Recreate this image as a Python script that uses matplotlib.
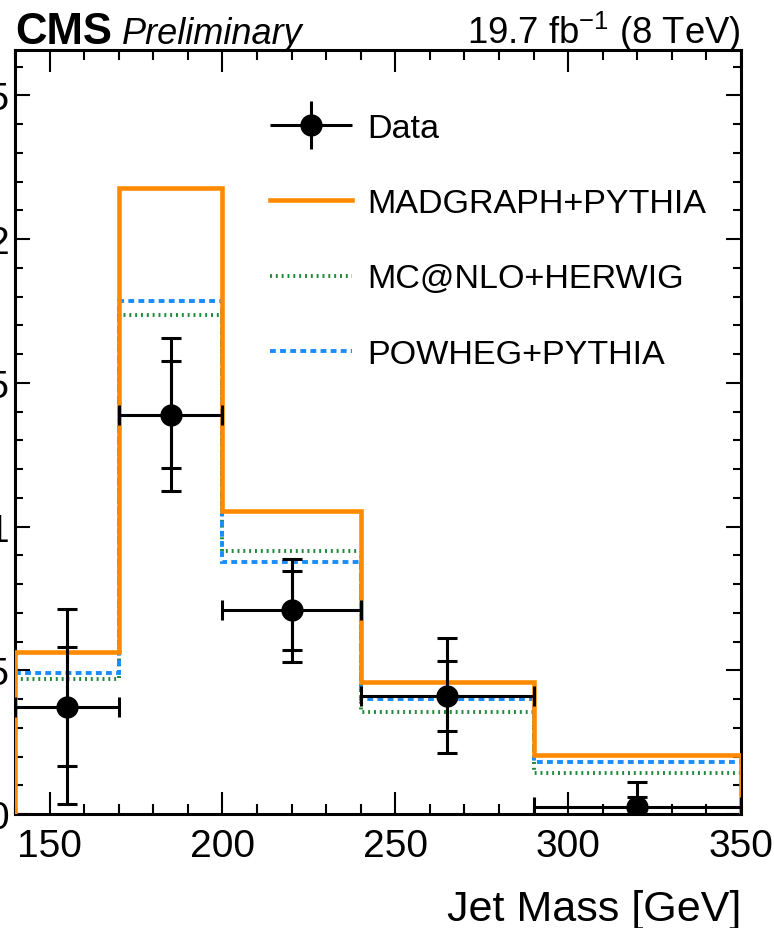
import numpy as np
import matplotlib
matplotlib.use("Agg")
import matplotlib.pyplot as plt
from matplotlib.ticker import MultipleLocator
from matplotlib.legend_handler import HandlerErrorbar

plt.rcParams['font.family'] = ['Liberation Sans', 'DejaVu Sans']
plt.rcParams['mathtext.default'] = 'regular'

# binning and values
edges = [140, 170, 200, 240, 290, 350]
centers = [155, 185, 220, 265, 320]
data = [0.373, 1.389, 0.708, 0.412, 0.024]
tot_up = [0.713, 1.656, 0.886, 0.612, 0.111]
tot_dn = [0.034, 1.124, 0.529, 0.211, -0.05]
stat_up = [0.580, 1.575, 0.846, 0.533, 0.060]
stat_dn = [0.166, 1.204, 0.570, 0.290, -0.02]
madgraph = [0.565, 2.177, 1.053, 0.458, 0.204]
mcatnlo = [0.470, 1.736, 0.914, 0.354, 0.143]
powheg = [0.490, 1.786, 0.877, 0.399, 0.180]

c_orange = '#ff8a00'
c_blue = '#1a8cff'
c_green = '#1f8a3a'
ls_green = (0, (0.5, 1.0))
ls_blue = (0, (1.5, 1.1))

fig = plt.figure(figsize=(7.74, 9.29), dpi=100)
ax = fig.add_axes([15/774, 1-815/929, 726/774, 764/929])

d = np.array(data)
xerr = [np.array(centers) - np.array(edges[:-1]), np.array(edges[1:]) - np.array(centers)]

ax.stairs(mcatnlo, edges, baseline=None, color=c_green, lw=2.8, linestyle=ls_green, zorder=2)
ax.stairs(powheg, edges, baseline=None, color=c_blue, lw=2.8, linestyle=ls_blue, zorder=2)
ax.stairs(madgraph, edges, baseline=0, color=c_orange, lw=3.3, zorder=3)

ax.errorbar(centers, d, yerr=[d - np.array(stat_dn), np.array(stat_up) - d],
            fmt='none', ecolor='black', elinewidth=2.2, capsize=7, capthick=2.2, zorder=4)
ax.errorbar(centers, d, yerr=[d - np.array(tot_dn), np.array(tot_up) - d], xerr=xerr,
            fmt='o', color='black', ms=15, elinewidth=2.2, capsize=7, capthick=2.2, zorder=5)

# legend proxies
h_data = ax.errorbar([], [], yerr=[], xerr=[], fmt='o', color='black', ms=15,
                     elinewidth=2.2, capsize=0)
h_mg, = ax.plot([], [], color=c_orange, lw=3.3)
h_mc, = ax.plot([], [], color=c_green, lw=2.8, linestyle=ls_green)
h_pw, = ax.plot([], [], color=c_blue, lw=2.8, linestyle=ls_blue)
ax.legend([h_data, h_mg, h_mc, h_pw],
          ['Data', 'MADGRAPH+PYTHIA', 'MC@NLO+HERWIG', 'POWHEG+PYTHIA'],
          handler_map={h_data: HandlerErrorbar(xerr_size=1.2, yerr_size=0.7)},
          loc='upper left', bbox_to_anchor=(0.351, 0.918), frameon=False,
          fontsize=24.6, handlelength=2.4, handletextpad=0.46, labelspacing=1.3,
          borderpad=0, borderaxespad=0)

ax.set_xlim(140, 350)
ax.set_ylim(0, 2.658)
ax.xaxis.set_major_locator(MultipleLocator(50))
ax.xaxis.set_minor_locator(MultipleLocator(10))
ax.yaxis.set_major_locator(MultipleLocator(0.5))
ax.yaxis.set_minor_locator(MultipleLocator(0.1))
ax.tick_params(which='both', direction='in', top=True, right=True, labelsize=28, width=1.5)
ax.tick_params(axis='x', which='major', length=16, pad=10)
ax.tick_params(axis='x', which='minor', length=7)
ax.tick_params(axis='y', which='major', length=11, pad=4)
ax.tick_params(axis='y', which='minor', length=6)
ax.yaxis.set_major_formatter(matplotlib.ticker.FormatStrFormatter('%g'))
for s in ax.spines.values():
    s.set_linewidth(2.2)

ax.text(1.0, -0.1387, 'Jet Mass [GeV]', transform=ax.transAxes, ha='right',
        va='baseline', fontsize=31)
ax.text(0.0, 1.009, 'CMS', transform=ax.transAxes, ha='left', va='baseline',
        fontsize=31.5, fontweight='bold')
ax.text(0.147, 1.009, 'Preliminary', transform=ax.transAxes, ha='left', va='baseline',
        fontsize=26, style='italic')
ax.text(1.0, 1.009, r'19.7 fb$^{-1}$ (8 TeV)', transform=ax.transAxes, ha='right',
        va='baseline', fontsize=26.3)

fig.savefig('out.png', dpi=100)
